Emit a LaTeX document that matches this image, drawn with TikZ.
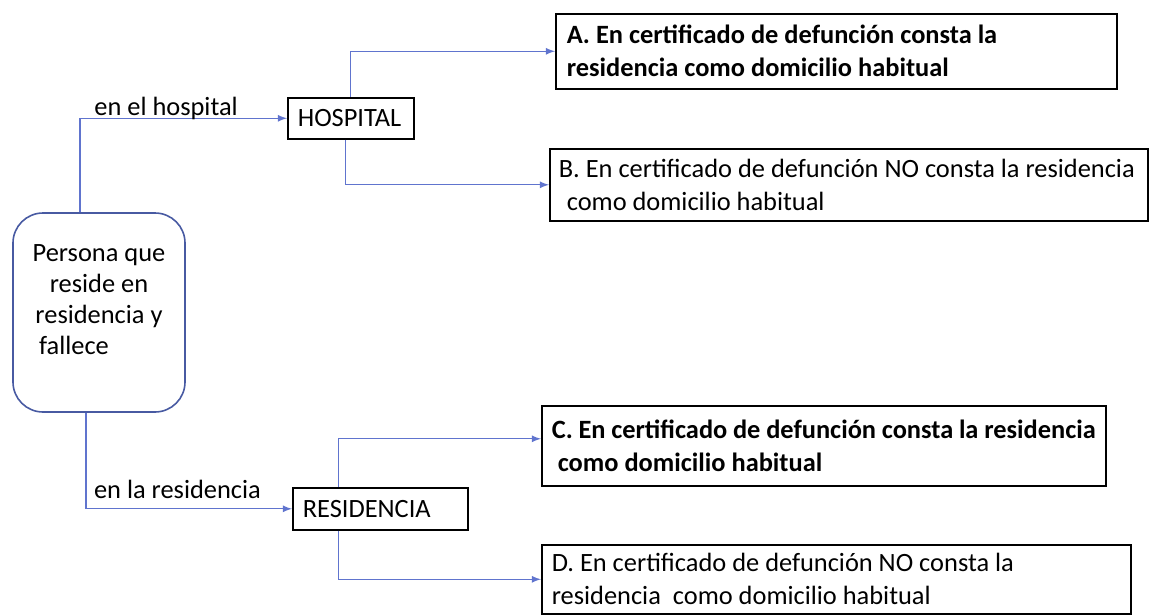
\documentclass[tikz,border=0pt]{standalone}
\usepackage{fontspec}
\setmainfont{Carlito}
\usepackage{tikz}
\usetikzlibrary{arrows,positioning}

\definecolor{linkblue}{RGB}{96,116,206}
\definecolor{framblue}{RGB}{72,90,162}

\begin{document}
\begin{tikzpicture}[x=0.5pt,y=-0.5pt,
            font=\fontsize{13.2}{16.5}\selectfont,
            conn/.style={draw=linkblue,line width=0.6pt,-latex},
            place/.style={draw,rectangle,line width=0.8pt,align=flush left,inner xsep=5pt,inner ysep=0pt,anchor=north west},
            lbl/.style={anchor=base,inner sep=0pt}]
            \useasboundingbox (0,0) rectangle (1150,615);

            \node[draw=framblue,line width=0.8pt,rounded corners=15pt,minimum width=86pt,minimum height=99.5pt,
                  align=center,font=\fontsize{13.2}{15.5}\selectfont] (person) at (99,312.5)
                 {Persona que\\reside en\\residencia y\\fallece\hspace*{25pt}\null\\[-2.5pt]};

            \node[place,text width=53pt,minimum height=20.5pt] (hosp) at (287,97) {HOSPITAL};
            \node[place,text width=77.5pt,minimum height=21pt] (resid) at (292,487) {RESIDENCIA};

            \node[place,inner xsep=5.5pt,text width=269.5pt,minimum height=37.5pt,font=\fontsize{13.2}{16.5}\selectfont\bfseries] (optA) at (555,13)
                 {A. En certificado de defunción consta la\\residencia como domicilio habitual};
            \node[place,inner xsep=4.5pt,text width=290pt,minimum height=36pt] (optB) at (549,148)
                 {B. En certificado de defunción NO consta la residencia\\\hspace*{4pt}como domicilio habitual};
            \node[place,text width=272pt,minimum height=40pt,font=\fontsize{13.2}{16.5}\selectfont\bfseries] (optC) at (541,405)
                 {C. En certificado de defunción consta la residencia\\\hspace*{3pt}como domicilio habitual};
            \node[place,text width=284.5pt,minimum height=34.5pt] (optD) at (541,544)
                 {D. En certificado de defunción NO consta la\\residencia\hspace{6pt}como domicilio habitual};

            % first branch
            \draw[conn] ([xshift=-9.5pt]person.north) |- (hosp.west)
                 node[lbl,pos=0.708,yshift=1.5pt] (lblhosp) {en el hospital};
            \draw[conn] (hosp.north) |- (optA.west);
            \draw[conn] ([xshift=-2.5pt]hosp.south) |- (optB.west);

            % second branch
            \draw[conn] ([xshift=-6.5pt]person.south) |- (resid.west)
                 node[lbl,pos=0.722,yshift=5pt] (lblresid) {en la residencia};
            \draw[conn] ([xshift=-21pt]resid.north) |- ([yshift=3.5pt]optC.west);
            \draw[conn] ([xshift=-21pt]resid.south) |- (optD.west);
          \end{tikzpicture}
\end{document}
